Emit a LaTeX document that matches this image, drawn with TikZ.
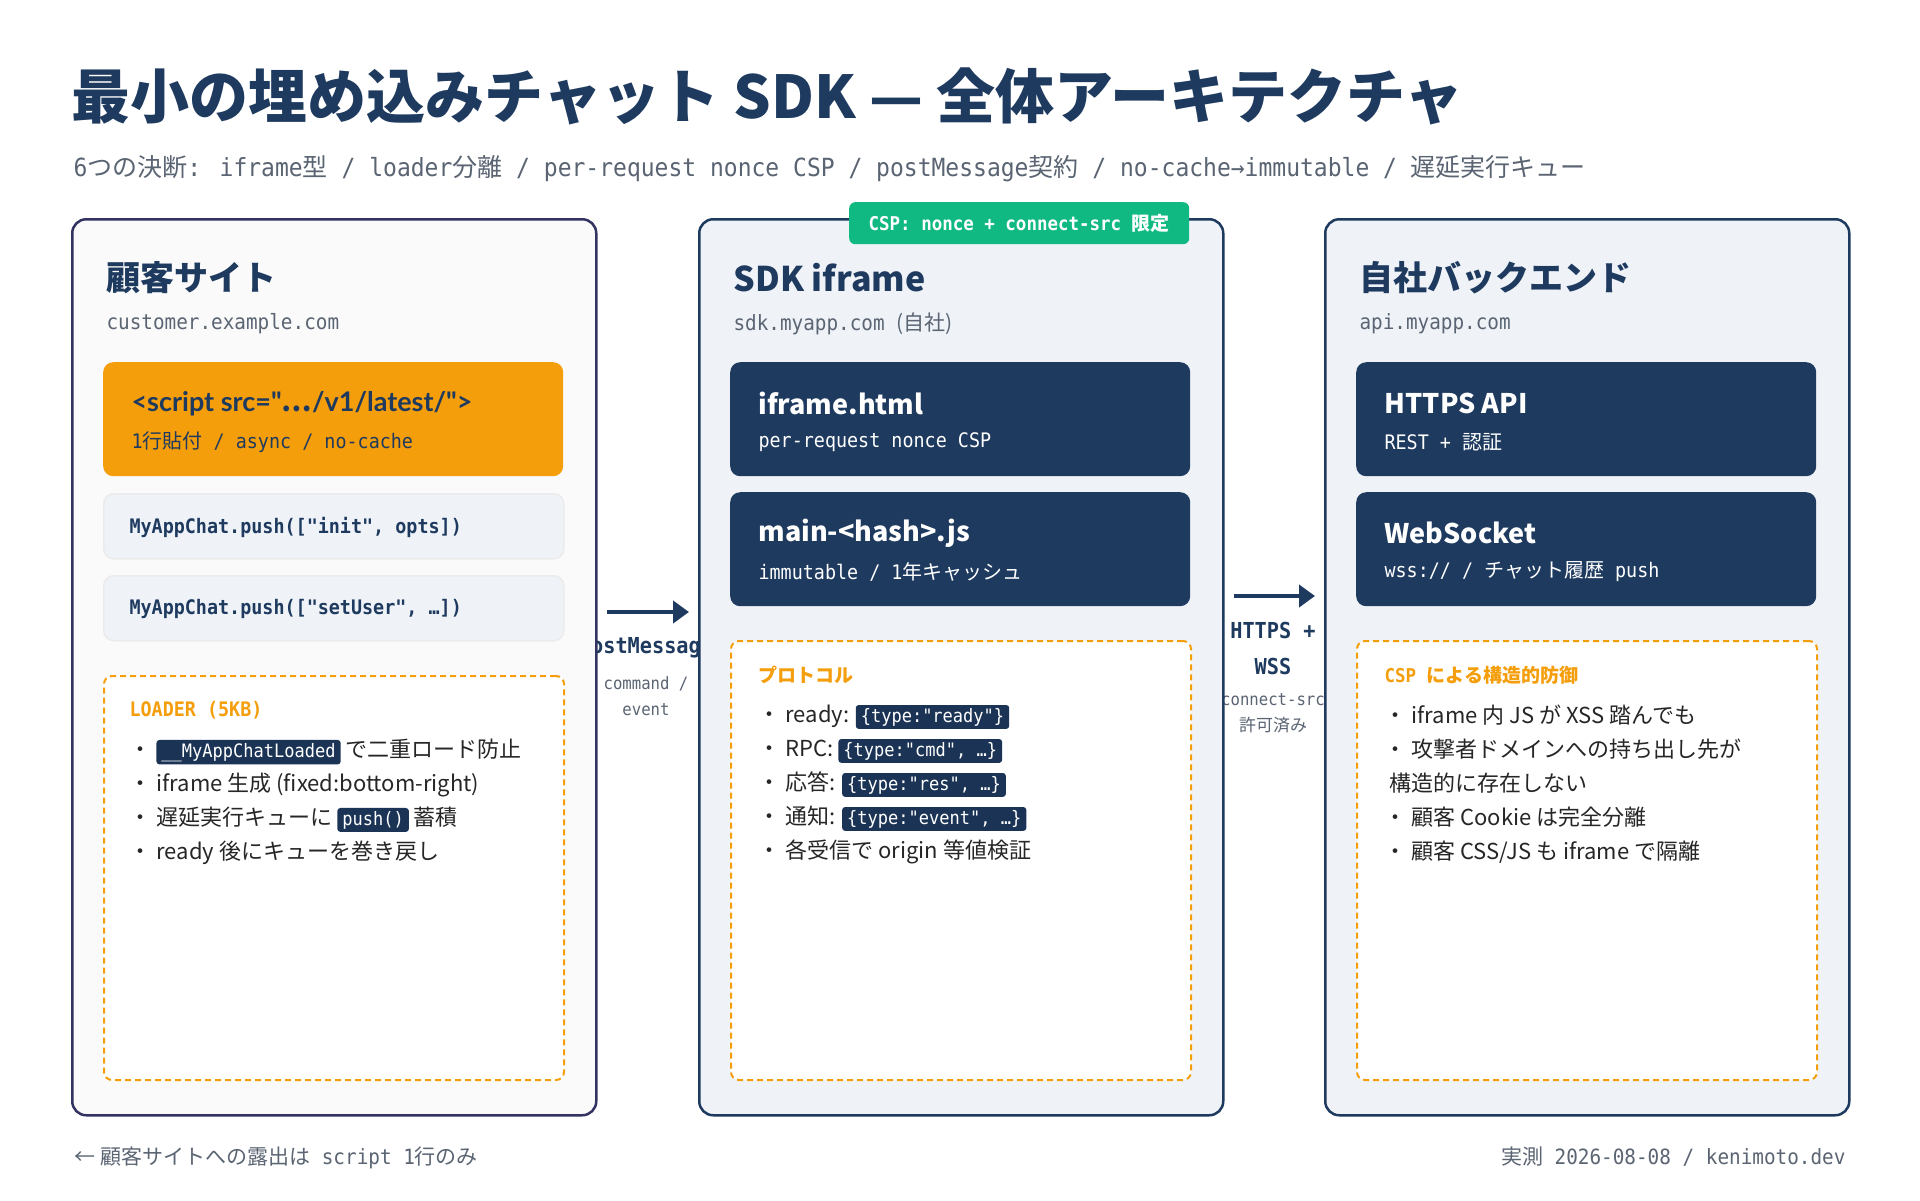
\documentclass[tikz,border=0pt]{standalone}
\usepackage{fontspec}
\setmainfont{Noto Sans CJK JP}
\newfontfamily\mono[FakeStretch=0.92]{DejaVu Sans Mono}
\newfontfamily\lat{Lato Bold}
\usepackage{xcolor}
\usetikzlibrary{arrows.meta}
\usetikzlibrary{positioning}
\definecolor{navy}{HTML}{1E3A5F}
\definecolor{orng}{HTML}{F59E0B}
\definecolor{grn}{HTML}{10B981}
\definecolor{gtxt}{HTML}{5A6472}
\definecolor{pale}{HTML}{EFF3F8}
\newcommand{\m}[1]{{\mono #1}}
\newcommand{\chip}[1]{\tikz[baseline=(c.base)]\node[chip](c){#1};}
\tikzset{
  panel/.style={rectangle, draw=navy, line width=2.5pt, fill=pale, rounded corners=14pt, minimum width=524pt, minimum height=896pt, anchor=north west},
  card/.style={rectangle, rounded corners=10pt, minimum width=460pt, minimum height=114pt, anchor=north west},
  codecard/.style={rectangle, draw=black!8, line width=1.5pt, fill=pale, rounded corners=10pt, minimum width=460pt, minimum height=65pt, anchor=north west},
  dashbox/.style={rectangle, draw=orng, line width=2pt, dash pattern=on 6pt off 4pt, fill=white, rounded corners=8pt, minimum width=460pt, anchor=north west},
  chip/.style={rectangle, fill=navy!90!black, text=white, rounded corners=3pt, inner xsep=5pt, inner ysep=3pt, font=\mono\fontsize{18.5}{20}\selectfont},
  head/.style={anchor=west, text=navy, font=\bfseries\fontsize{34}{40}\selectfont},
  host/.style={anchor=west, text=gtxt, font=\mono\fontsize{21}{24}\selectfont},
  ctitle/.style={anchor=west, font=\bfseries\fontsize{27}{30}\selectfont},
  csub/.style={anchor=west, font=\fontsize{20}{24}\selectfont},
  blist/.style={anchor=north west, align=left, text=black!85, font=\fontsize{22}{34}\selectfont},
  boxlabel/.style={anchor=west, text=orng, font=\bfseries\fontsize{19}{22}\selectfont},
  codetext/.style={anchor=west, text=navy, font=\mono\bfseries\fontsize{20}{26}\selectfont},
  flow/.style={line width=4pt, draw=navy, -{Triangle[length=16pt,width=22pt]}, shorten <=9pt, shorten >=9pt},
  elabel/.style={text=navy, font=\mono\bfseries\fontsize{22}{26}\selectfont},
  esub/.style={text=gtxt, font=\fontsize{17}{26}\selectfont, align=center}
}
\begin{document}
\begin{tikzpicture}[x=1pt,y=-1pt]
\useasboundingbox[fill=white] (0,0) rectangle (1920,1200);

% title
\node[anchor=base west, text=navy, font=\bfseries\fontsize{59}{64}\selectfont] (title) at (68,118) {最小の埋め込みチャット SDK — 全体アーキテクチャ};
\node[anchor=base west, text=gtxt, font=\fontsize{25}{28}\selectfont] (subtitle) at (70,176)
  {\m{6}つの決断\m{: iframe}型\m{~/ loader}分離\m{~/ per-request nonce CSP / postMessage}契約\m{~/ no-cache→immutable /~}遅延実行キュー};

% edge labels (partly hidden below the panels)
\node[elabel] (pmlab) at (646,648) {postMessage};
\node[esub] (pmsub) at (646,696) {\m{command /}\\\m{event}};
\node[elabel, align=center, font=\mono\bfseries\fontsize{22}{36}\selectfont] (htlab) at (1273,648) {HTTPS +\\WSS};
\node[esub] (htsub) at (1273,713) {\m{connect-src}\\許可済み};

% customer site
\node[panel, draw=black!70!blue!60!gray, fill=black!2] (cust) at (71,218) {};
\node[head] (custh) at (103,278) {顧客サイト};
\node[host] (custd) at (103,324) {customer.example.com};
\node[card, fill=orng] (tag) at (103,362) {};
\node[ctitle, text=navy, font=\lat\fontsize{27}{30}\selectfont] at (128,404) {<script src="{\normalfont\bfseries …}/v1/latest/">};
\node[csub, text=navy] at (128,442) {\m{1}行貼付\m{~/ async / no-cache}};
\node[codecard] (init) at (103,493) {};
\node[codetext] at (126,527) {MyAppChat.push(["init", opts])};
\node[codecard] (setu) at (103,575) {};
\node[codetext] at (126,609) {MyAppChat.push(["setUser", …])};
\node[dashbox, minimum height=404pt] (loader) at (103,675) {};
\node[boxlabel, font=\mono\bfseries\fontsize{20}{22}\selectfont] at (126,710) {LOADER (5KB)};
\node[blist] at (126,735) {・ \chip{\_\_MyAppChatLoaded} で二重ロード防止\\
  ・ iframe 生成 (fixed:bottom-right)\\
  ・ 遅延実行キューに \chip{push()} 蓄積\\
  ・ ready 後にキューを巻き戻し};

% sdk iframe
\node[panel] (sdk) at (698,218) {};
\node[rectangle, fill=grn, text=white, rounded corners=6pt, minimum width=340pt, minimum height=42pt, anchor=north west, font=\mono\bfseries\fontsize{19}{22}\selectfont] (csp) at (849,202) {CSP: nonce + connect-src {\normalfont\bfseries 限定}};
\node[head] (sdkh) at (730,278) {SDK iframe};
\node[host] (sdkd) at (730,324) {sdk.myapp.com {\normalfont (自社)}};
\node[card, fill=navy] (html) at (730,362) {};
\node[ctitle, text=white] at (755,403) {iframe.html};
\node[csub, text=white] at (755,442) {\m{per-request nonce CSP}};
\node[card, fill=navy] (mainjs) at (730,492) {};
\node[ctitle, text=white] at (755,533) {main-<hash>.js};
\node[csub, text=white] at (755,572) {\m{immutable / 1}年キャッシュ};
\node[dashbox, minimum height=439pt] (proto) at (730,640) {};
\node[boxlabel] at (755,675) {プロトコル};
\node[blist] at (755,701) {・ ready: \chip{\{type:"ready"\}}\\
  ・ RPC: \chip{\{type:"cmd", …\}}\\
  ・ 応答: \chip{\{type:"res", …\}}\\
  ・ 通知: \chip{\{type:"event", …\}}\\
  ・ 各受信で origin 等値検証};

% backend
\node[panel] (back) at (1324,218) {};
\node[head] (backh) at (1356,278) {自社バックエンド};
\node[host] (backd) at (1356,324) {api.myapp.com};
\node[card, fill=navy] (api) at (1356,362) {};
\node[ctitle, text=white] at (1381,403) {HTTPS API};
\node[csub, text=white] at (1381,442) {\m{REST +~}認証};
\node[card, fill=navy] (ws) at (1356,492) {};
\node[ctitle, text=white] at (1381,533) {WebSocket};
\node[csub, text=white] at (1381,572) {\m{wss:// /~}チャット履歴\m{~push}};
\node[dashbox, minimum height=439pt] (guard) at (1356,640) {};
\node[boxlabel] at (1381,675) {\m{CSP~}による構造的防御};
\node[blist] at (1381,701) {・ iframe 内 JS が XSS 踏んでも\\
  ・ 攻撃者ドメインへの持ち出し先が\\
  \ 構造的に存在しない\\
  ・ 顧客 Cookie は完全分離\\
  ・ 顧客 CSS/JS も iframe で隔離};

% connectors
\draw[flow] (cust.east |- 0,612) -- (sdk.west |- 0,612);
\draw[flow] (sdk.east |- 0,596) -- (back.west |- 0,596);

% footer
\node[anchor=base west, text=gtxt, font=\fontsize{21}{24}\selectfont] (footl) at (71,1164) {← 顧客サイトへの露出は\m{~script 1}行のみ};
\node[anchor=base east, text=gtxt, font=\fontsize{21}{24}\selectfont] (footr) at (1849,1164) {実測\m{~2026-08-08 / kenimoto.dev}};
\end{tikzpicture}
\end{document}
